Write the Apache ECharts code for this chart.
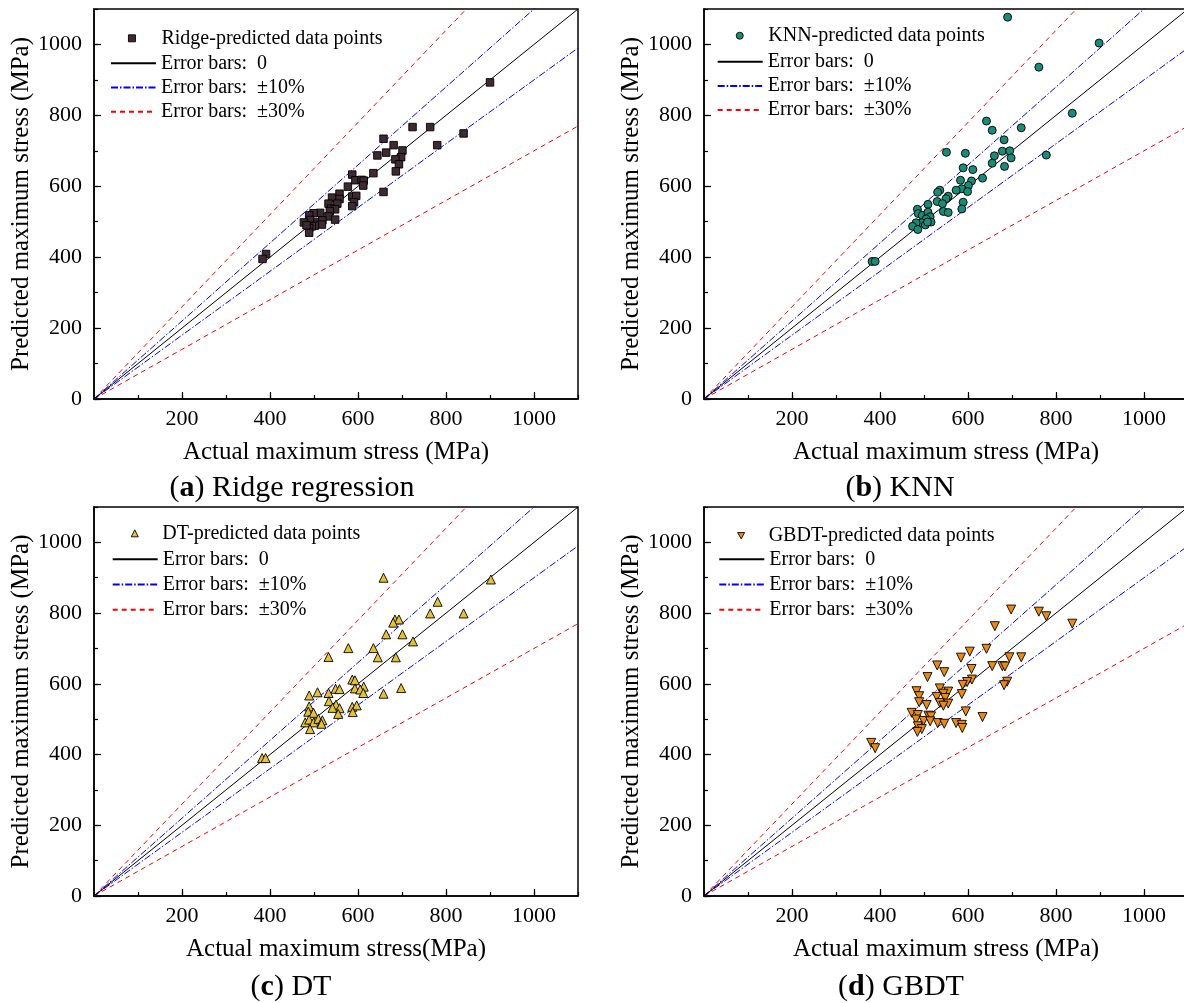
<!DOCTYPE html>
<html><head><meta charset="utf-8">
<script src="https://cdn.jsdelivr.net/npm/echarts@6/dist/echarts.min.js"></script>
<style>html,body{margin:0;padding:0;background:#fff}#c{width:1184px;height:1003px}</style>
</head><body><div id="c"></div>
<script>
// ---------- data ----------
const axisMin = 0;
const axisMax = 1100;
const majorStep = 200;
const minorStep = 100;
const guideX = [0, 1100];
const ratioZero = [1];
const ratio10 = [1.1, 0.9];
const ratio30 = [1.3, 0.7];

const ridgeActual = [900,724,764,840,780,658,681,701,664,644,698,685,693,686,635,587,594,608,613,612,577,658,587,596,591,587,558,541,558,553,533,539,548,536,533,548,514,499,489,491,477,508,519,518,502,495,489,489,483,391,383];
const ridgePred   = [893,767,767,749,716,734,716,701,695,687,682,676,662,642,637,633,617,618,616,602,599,584,571,573,555,544,579,568,564,551,551,537,535,530,515,506,525,524,518,505,498,498,504,492,489,487,482,469,490,409,395];

const knnActual = [690,898,761,837,642,655,721,682,551,594,678,695,660,698,778,655,683,589,611,633,583,608,601,586,599,573,536,531,555,530,550,542,544,555,589,586,509,485,487,496,509,514,516,505,495,482,474,486,503,508,382,389];
const knnPred   = [1077,1004,936,806,784,758,765,731,696,693,699,700,686,680,688,665,656,652,647,623,617,615,602,593,585,589,589,583,572,557,565,551,529,526,555,536,549,535,523,518,527,514,499,508,497,497,487,478,491,499,388,388];

const dtActual = [902,658,781,764,840,684,693,680,664,701,725,578,635,533,645,686,587,593,549,558,593,613,605,612,698,658,508,489,533,534,550,558,542,555,587,597,588,489,487,499,480,489,499,510,519,517,491,382,390];
const dtPred   = [895,900,832,799,799,782,782,773,740,740,720,701,701,676,675,675,612,610,586,585,587,592,584,574,588,572,576,567,574,551,541,531,532,515,535,539,520,536,521,518,491,499,491,501,497,487,472,390,390];

const gbdtActual = [698,761,778,837,661,642,604,584,694,721,608,530,546,655,678,684,508,609,598,588,689,682,536,555,544,586,529,548,483,489,489,506,536,555,544,595,472,486,510,516,633,482,499,514,531,546,573,586,587,486,495,485,380,389];
const gbdtPred   = [810,804,791,770,763,699,691,674,675,675,642,652,633,650,650,649,619,612,605,597,606,596,587,578,572,571,563,560,579,565,548,540,546,544,538,522,518,512,510,508,506,499,495,494,489,487,489,484,475,480,472,464,433,418];

const panelNames = ['Ridge-predicted data points','KNN-predicted data points','DT-predicted data points','GBDT-predicted data points'];
const xTitles = ['Actual maximum stress (MPa)','Actual maximum stress (MPa)','Actual maximum stress(MPa)','Actual maximum stress (MPa)'];
const yTitle = 'Predicted maximum stress (MPa)';
const captionLetters = ['a','b','c','d'];
const captionTexts = [') Ridge regression', ') KNN', ') DT', ') GBDT'];
const lineNames = ['Error bars:  0','Error bars:  \u00b110%','Error bars:  \u00b130%'];

// ---------- layout / style ----------
const FONT = "'Liberation Serif','Times New Roman',serif";
const grids = [
  {left:94, top:9, width:484, height:390},
  {left:704, top:9, width:484, height:390},
  {left:94, top:507, width:484, height:389},
  {left:704, top:507, width:484, height:389}
];
const markers = [
  {symbol:'rect', size:7.5, color:'#3d2b31', rotate:0, icon:'rect'},
  {symbol:'circle', size:8, color:'#1b8a77', rotate:0, icon:'circle'},
  {symbol:'triangle', size:9, color:'#e3c23a', rotate:0, icon:'triangle'},
  {symbol:'triangle', size:9, color:'#ea8a14', rotate:180, icon:'path://M0,0 L10,0 L5,9 Z'}
];
const legendPos = [
  {sx:128, sy:28.3, pad:21, lx:110, ly:53.3, gap:4.2},
  {sx:735.8, sy:25.7, pad:20, lx:716.7, ly:51.7, gap:4.2},
  {sx:130.8, sy:523.3, pad:19, lx:111.7, ly:549.3, gap:5.2},
  {sx:737.2, sy:525.7, pad:19, lx:718.3, ly:549.3, gap:5.2}
];
const captionPos = [[292,488],[900,488],[291,987],[901,987]];
const datasets = [[ridgeActual,ridgePred],[knnActual,knnPred],[dtActual,dtPred],[gbdtActual,gbdtPred]];

const xAxes = [], yAxes = [], series = [], legends = [], graphics = [];
const plain = v => String(v);
grids.forEach((g, i) => {
  g.show = true; g.borderColor = '#000'; g.borderWidth = 1.5; g.containLabel = false;
  g.outerBoundsMode = 'none';
  // minor-tick axes
  xAxes.push({gridIndex:i, type:'value', position:'bottom', min:axisMin, max:axisMax, interval:minorStep,
    axisLine:{show:false, onZero:false}, axisTick:{inside:true, length:4, lineStyle:{color:'#000', width:1.2}},
    axisLabel:{show:false}, splitLine:{show:false}});
  yAxes.push({gridIndex:i, type:'value', position:'left', min:axisMin, max:axisMax, interval:minorStep,
    axisLine:{show:false, onZero:false}, axisTick:{inside:true, length:4, lineStyle:{color:'#000', width:1.2}},
    axisLabel:{show:false}, splitLine:{show:false}});
  // major axes
  xAxes.push({gridIndex:i, type:'value', position:'bottom', min:axisMin, max:axisMax, interval:majorStep,
    axisLine:{show:true, onZero:false, lineStyle:{color:'#000', width:1.5}},
    axisTick:{inside:true, length:7, lineStyle:{color:'#000', width:1.2}},
    axisLabel:{color:'#000', fontFamily:FONT, fontSize:22, margin:9, showMinLabel:false, showMaxLabel:false, formatter:plain},
    splitLine:{show:false},
    name:xTitles[i], nameLocation:'middle', nameGap:41,
    nameTextStyle:{color:'#000', fontFamily:FONT, fontSize:25}});
  yAxes.push({gridIndex:i, type:'value', position:'left', min:axisMin, max:axisMax, interval:majorStep,
    axisLine:{show:true, onZero:false, lineStyle:{color:'#000', width:1.5}},
    axisTick:{inside:true, length:7, lineStyle:{color:'#000', width:1.2}},
    axisLabel:{color:'#000', fontFamily:FONT, fontSize:22, margin:12, showMinLabel:true, showMaxLabel:false, formatter:plain},
    splitLine:{show:false},
    name:yTitle, nameLocation:'middle', nameGap:58,
    nameTextStyle:{color:'#000', fontFamily:FONT, fontSize:25}});
  const xi = i*2+1, yi = i*2+1;
  const addGuide = (name, r, color, type) => series.push({
    type:'line', name, xAxisIndex:xi, yAxisIndex:yi, symbol:'none', silent:true, clip:true,
    itemStyle:{color}, lineStyle:{color, width:1, type}, data: guideX.map(x => [x, x*r]), z:2
  });
  ratio30.forEach(r => addGuide(lineNames[2], r, '#ff0000', [5,4]));
  ratio10.forEach(r => addGuide(lineNames[1], r, '#0000ff', [7,2,1.5,2]));
  ratioZero.forEach(r => addGuide(lineNames[0], r, '#000000', 'solid'));
  const m = markers[i];
  const [ax, pr] = datasets[i];
  series.push({type:'scatter', name:panelNames[i], xAxisIndex:xi, yAxisIndex:yi,
    symbol:m.symbol, symbolSize:m.size, symbolRotate:m.rotate,
    itemStyle:{color:m.color, borderColor:'#000', borderWidth:0.9, opacity:1},
    data: ax.map((v, k) => [v, pr[k]]), z:5});
  const lp = legendPos[i];
  legends.push({data:[{name:panelNames[i], icon:m.icon}], left:lp.sx, top:lp.sy, padding:0, itemWidth:7, itemHeight:7,
    selectedMode:false, symbolRotate:0,
    itemStyle:{color:m.color, borderColor:'#000', borderWidth:0.9},
    formatter: n => '{p|}' + n,
    textStyle:{color:'#000', fontFamily:FONT, fontSize:20, lineHeight:20, rich:{p:{width:lp.pad}}}});
  legends.push({data:lineNames.slice(), orient:'vertical', left:lp.lx, top:lp.ly, padding:0,
    itemWidth:45, itemHeight:14, itemGap:lp.gap, selectedMode:false,
    itemStyle:{opacity:0},
    textStyle:{color:'#000', fontFamily:FONT, fontSize:20, lineHeight:20}});
  graphics.push({type:'text', x:captionPos[i][0], y:captionPos[i][1],
    style:{text:'{n|(}{b|' + captionLetters[i] + '}{n|' + captionTexts[i] + '}',
      align:'center', verticalAlign:'middle',
      rich:{n:{fontFamily:FONT, fontSize:30, fill:'#000'}, b:{fontFamily:FONT, fontSize:30, fontWeight:'bold', fill:'#000'}}}});
});

const chart = echarts.init(document.getElementById('c'), null, {renderer:'canvas'});
chart.setOption({
  animation:false,
  backgroundColor:'#fff',
  grid:grids, xAxis:xAxes, yAxis:yAxes, series, legend:legends, graphic:graphics
});
</script>
</body></html>
